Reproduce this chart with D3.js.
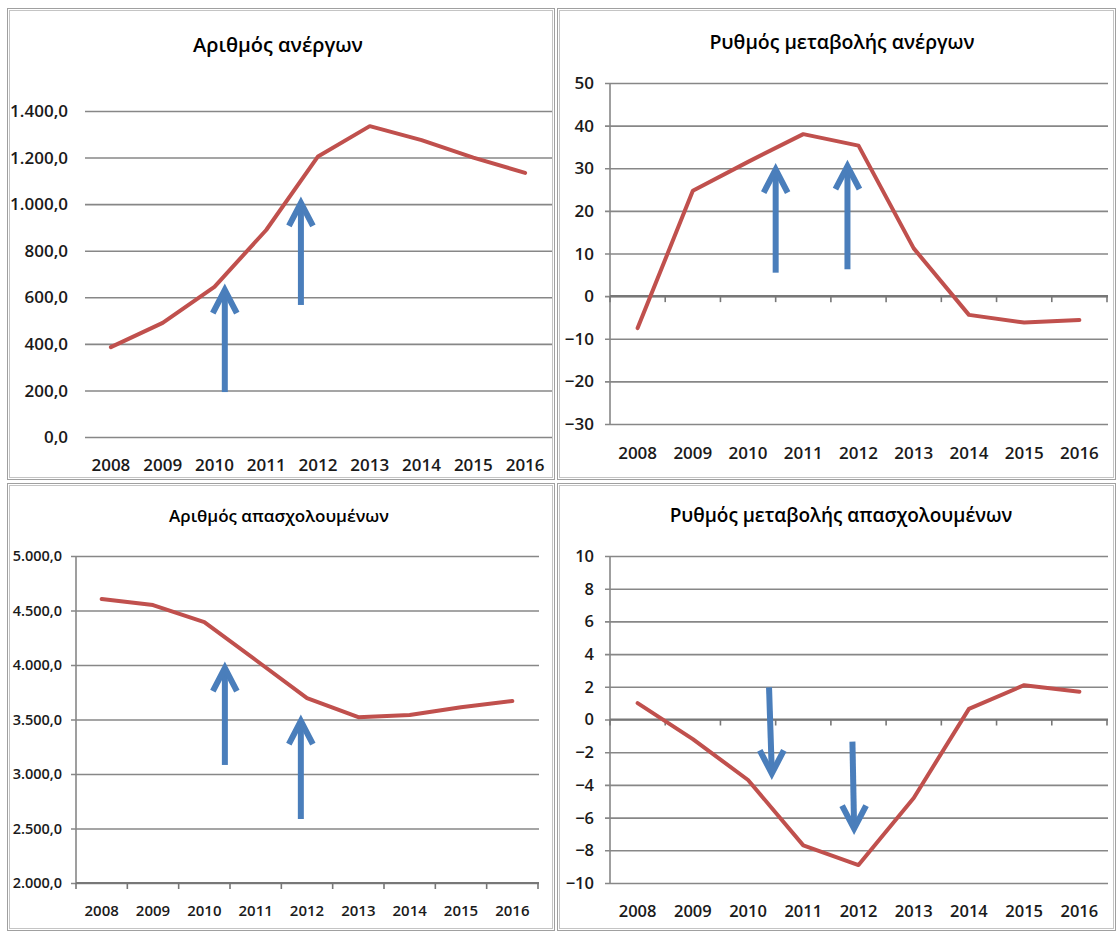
<!DOCTYPE html>
<html>
<head>
<meta charset="utf-8">
<script src="https://cdn.jsdelivr.net/npm/d3@7"></script>
<style>
  html, body { margin: 0; padding: 0; background: #ffffff; }
  svg { display: block; }
  .num { font-family: "Open Sans", "Noto Sans", sans-serif; font-weight: 600; fill: #1a1a1a; }
  .title { font-family: "Open Sans", "Noto Sans", sans-serif; font-weight: 600; fill: #000; }
</style>
</head>
<body>
<svg id="chart" width="1119" height="932"></svg>
<script>
// ---------------- data ----------------
const years = ["2008", "2009", "2010", "2011", "2012", "2013", "2014", "2015", "2016"];

const unemployed      = [386, 490, 645, 889, 1205, 1335, 1275, 1200, 1134];
const unemployedRate  = [-7.5, 24.7, 31.5, 38.0, 35.3, 11.2, -4.4, -6.2, -5.6];
const employed        = [4605, 4550, 4394, 4046, 3697, 3521, 3541, 3612, 3670];
const employedRate    = [1.0, -1.2, -3.7, -7.7, -8.9, -4.8, 0.65, 2.1, 1.7];

const ticksUnemployed     = [0, 200, 400, 600, 800, 1000, 1200, 1400];
const ticksUnemployedRate = [-30, -20, -10, 0, 10, 20, 30, 40, 50];
const ticksEmployed       = [2000, 2500, 3000, 3500, 4000, 4500, 5000];
const ticksEmployedRate   = [-10, -8, -6, -4, -2, 0, 2, 4, 6, 8, 10];

const titles = ["Αριθμός ανέργων", "Ρυθμός μεταβολής ανέργων",
                "Αριθμός απασχολουμένων", "Ρυθμός μεταβολής απασχολουμένων"];

// annotation arrows: x in (fractional) years, y in data units; tail -> tip
const arrowsUnemployed     = [{x0: 2010.2, y0: 193, x1: 2010.2, y1: 631}, {x0: 2011.67, y0: 567, x1: 2011.67, y1: 1005}];
const arrowsUnemployedRate = [{x0: 2010.5, y0: 5.5, x1: 2010.5, y1: 29.7}, {x0: 2011.8, y0: 6.3, x1: 2011.8, y1: 30.5}];
const arrowsEmployed       = [{x0: 2010.4, y0: 3083, x1: 2010.4, y1: 3972}, {x0: 2011.88, y0: 2587, x1: 2011.88, y1: 3486}];
const arrowsEmployedRate   = [{x0: 2010.38, y0: 1.96, x1: 2010.43, y1: -3.3}, {x0: 2011.89, y0: -1.35, x1: 2011.92, y1: -6.67}];

// ---------------- formatting ----------------
const grLocale = d3.formatLocale({decimal: ",", thousands: ".", grouping: [3], currency: ["€", ""], minus: "-"});
const fmtDec = grLocale.format(",.1f");
const fmtInt = d3.format("d");

// ---------------- layout ----------------
const panels = [
  { frame: [7, 8, 555, 480], x: [85, 551], y: [437, 111], domain: [0, 1400],
    values: unemployed, ticks: ticksUnemployed, fmt: fmtDec, title: titles[0], titleXY: [278, 45], titleSize: 20,
    labelX: 68, labelSize: 17, xLabelSize: 17, xLabelY: 465, axis: false, tickLine: null, arrows: arrowsUnemployed },
  { frame: [557, 8, 1116, 480], x: [610, 1107], y: [424, 83], domain: [-30, 50],
    values: unemployedRate, ticks: ticksUnemployedRate, fmt: fmtInt, title: titles[1], titleXY: [842, 42], titleSize: 19.5,
    labelX: 594, labelSize: 17, xLabelSize: 17, xLabelY: 453, axis: true, tickLine: 0, arrows: arrowsUnemployedRate },
  { frame: [7, 483, 555, 931], x: [76, 538], y: [883, 556], domain: [2000, 5000],
    values: employed, ticks: ticksEmployed, fmt: fmtDec, title: titles[2], titleXY: [279, 516], titleSize: 17,
    labelX: 62, labelSize: 14.5, xLabelSize: 15, xLabelY: 911, axis: true, tickLine: 2000, arrows: arrowsEmployed },
  { frame: [557, 483, 1116, 931], x: [610, 1107], y: [883, 556], domain: [-10, 10],
    values: employedRate, ticks: ticksEmployedRate, fmt: fmtInt, title: titles[3], titleXY: [841, 515], titleSize: 19,
    labelX: 594, labelSize: 16.5, xLabelSize: 16.5, xLabelY: 911, axis: true, tickLine: 0, arrows: arrowsEmployedRate }
];

const svg = d3.select("#chart");

panels.forEach(p => {
  const g = svg.append("g");
  const [fx0, fy0, fx1, fy1] = p.frame;

  // double frame
  g.append("rect").attr("x", fx0 + 0.5).attr("y", fy0 + 0.5)
    .attr("width", fx1 - fx0 - 1).attr("height", fy1 - fy0 - 1)
    .attr("fill", "#fff").attr("stroke", "#a0a0a0").attr("stroke-width", 1);
  g.append("rect").attr("x", fx0 + 2.5).attr("y", fy0 + 2.5)
    .attr("width", fx1 - fx0 - 5).attr("height", fy1 - fy0 - 5)
    .attr("fill", "none").attr("stroke", "#c4c4c4").attr("stroke-width", 1);

  const x = d3.scaleBand().domain(years).range(p.x).padding(0);
  const y = d3.scaleLinear().domain(p.domain).range(p.y);
  const cx = yr => x(yr) + x.bandwidth() / 2;
  const fx = v => { const base = Math.floor(v); return x(String(base)) + x.bandwidth() / 2 + (v - base) * x.bandwidth(); };

  // title
  g.append("text").attr("class", "title")
    .attr("x", p.titleXY[0]).attr("y", p.titleXY[1]).attr("dy", "0.35em")
    .attr("text-anchor", "middle").style("font-size", p.titleSize + "px")
    .text(p.title);

  // horizontal gridlines via axis
  const tickLen = p.axis ? 5 : 0;
  const yAxis = d3.axisLeft(y).tickValues(p.ticks).tickFormat("").tickSizeOuter(0)
    .tickSizeInner(-(p.x[1] - p.x[0]) - tickLen);
  const gy = g.append("g").attr("transform", `translate(${p.x[1] + 1},0)`).call(yAxis);
  gy.select(".domain").remove();
  gy.selectAll(".tick line").attr("stroke", "#878787").attr("stroke-width", 1.6)
    .attr("x1", 0).attr("x2", -(p.x[1] - p.x[0]) - 1 - tickLen);

  // y labels
  g.append("g").selectAll("text").data(p.ticks).join("text")
    .attr("class", "num")
    .attr("x", p.labelX).attr("y", d => y(d)).attr("dy", "0.36em")
    .attr("text-anchor", "end").style("font-size", p.labelSize + "px")
    .text(d => p.fmt(d));

  // vertical axis line
  if (p.axis) {
    g.append("line").attr("x1", p.x[0]).attr("x2", p.x[0])
      .attr("y1", p.y[1]).attr("y2", p.y[0])
      .attr("stroke", "#878787").attr("stroke-width", 1.6);
  }

  // category axis with boundary ticks
  if (p.tickLine !== null) {
    const ty = y(p.tickLine);
    g.append("line").attr("x1", p.x[0]).attr("x2", p.x[1] + 1).attr("y1", ty).attr("y2", ty)
      .attr("stroke", "#777").attr("stroke-width", 2.2);
    const bounds = years.map(yr => x(yr)).concat([p.x[1]]);
    g.append("g").selectAll("line").data(bounds).join("line")
      .attr("x1", d => d).attr("x2", d => d).attr("y1", ty).attr("y2", ty + 6)
      .attr("stroke", "#777").attr("stroke-width", 1.6);
  }

  // x labels
  g.append("g").selectAll("text").data(years).join("text")
    .attr("class", "num")
    .attr("x", d => cx(d)).attr("y", p.xLabelY).attr("dy", "0.36em")
    .attr("text-anchor", "middle").style("font-size", p.xLabelSize + "px")
    .text(d => d);

  // data line
  const line = d3.line().x((d, i) => cx(years[i])).y(d => y(d));
  g.append("path").datum(p.values).attr("d", line)
    .attr("fill", "none").attr("stroke", "#C0504D").attr("stroke-width", 4)
    .attr("stroke-linejoin", "round").attr("stroke-linecap", "round");

  // arrows
  p.arrows.forEach(a => {
    const X0 = fx(a.x0), Y0 = y(a.y0), X1 = fx(a.x1), Y1 = y(a.y1);
    const dir = Math.sign(Y0 - Y1); // +1 if pointing up
    g.append("line").attr("x1", X0).attr("y1", Y0).attr("x2", X1).attr("y2", Y1 + dir * 2)
      .attr("stroke", "#4A7EBB").attr("stroke-width", 6);
    g.append("path")
      .attr("d", `M${X1 - 12},${Y1 + dir * 23} L${X1},${Y1} L${X1 + 12},${Y1 + dir * 23}`)
      .attr("fill", "none").attr("stroke", "#4A7EBB").attr("stroke-width", 6)
      .attr("stroke-linejoin", "miter").attr("stroke-miterlimit", 10);
  });
});
</script>
</body>
</html>
